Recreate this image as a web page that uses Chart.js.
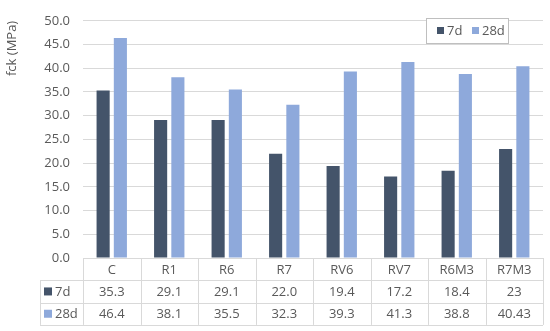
<!DOCTYPE html>
<html><head><meta charset="utf-8">
<script src="https://cdn.jsdelivr.net/npm/chart.js@4"></script>
<style>html,body{margin:0;padding:0;background:#fff}#wrap{width:550px;height:331px}</style>
</head><body><div id="wrap"><canvas id="c" width="550" height="331"></canvas></div>
<script>
const categories = ['C','R1','R6','R7','RV6','RV7','R6M3','R7M3'];
const values7d = [35.3, 29.1, 29.1, 22.0, 19.4, 17.2, 18.4, 23];
const values28d = [46.4, 38.1, 35.5, 32.3, 39.3, 41.3, 38.8, 40.43];
const labels7d = ['35.3','29.1','29.1','22.0','19.4','17.2','18.4','23'];
const labels28d = ['46.4','38.1','35.5','32.3','39.3','41.3','38.8','40.43'];
const seriesNames = ['7d','28d'];
const colors = ['#44546A','#8EA9DB'];
const FONT = '"Open Sans", "Liberation Sans", sans-serif';
const TXT = '#595959';
const LINE = '#d9d9d9';

const tablePlugin = {
  id: 'tbl',
  afterDraw(chart) {
    const ctx = chart.ctx, x = chart.scales.x, ca = chart.chartArea;
    const rowH = 22.3;
    const top = ca.bottom;
    const w = (ca.right - ca.left) / categories.length;
    const headLeft = 40;
    ctx.save();
    ctx.strokeStyle = LINE; ctx.lineWidth = 1;
    ctx.beginPath();
    ctx.moveTo(ca.left, top + 0.5); ctx.lineTo(ca.right, top + 0.5);
    for (let r = 1; r <= 3; r++) {
      const y = Math.round(top + r * rowH) + 0.5;
      ctx.moveTo(headLeft, y); ctx.lineTo(ca.right, y);
    }
    for (let i = 0; i <= categories.length; i++) {
      const xx = Math.round(ca.left + i * w) + 0.5;
      ctx.moveTo(xx, top); ctx.lineTo(xx, top + 3 * rowH);
    }
    ctx.moveTo(headLeft + 0.5, top + rowH); ctx.lineTo(headLeft + 0.5, top + 3 * rowH);
    ctx.stroke();
    ctx.fillStyle = TXT;
    ctx.font = '13px ' + FONT;
    ctx.textAlign = 'center'; ctx.textBaseline = 'middle';
    const rows = [categories, labels7d, labels28d];
    rows.forEach((row, r) => {
      row.forEach((t, i) => {
        const cx = x.getPixelForValue(i);
        ctx.fillText(t, cx, top + r * rowH + rowH / 2 + 1);
      });
    });
    ctx.textAlign = 'left';
    seriesNames.forEach((n, k) => {
      const cy = top + (k + 1) * rowH + rowH / 2;
      ctx.fillStyle = colors[k];
      ctx.fillRect(44, cy - 4, 8, 8);
      ctx.fillStyle = TXT;
      ctx.fillText(n, 55, cy + 1);
    });
    // legend
    const lx = 426, ly = 18, lw = 82, lh = 25;
    ctx.fillStyle = '#fff';
    ctx.fillRect(lx, ly, lw, lh);
    ctx.strokeStyle = '#bfbfbf';
    ctx.strokeRect(lx + 0.5, ly + 0.5, lw, lh);
    ctx.font = '13px ' + FONT;
    const items = [[437, 447], [472, 482]];
    seriesNames.forEach((n, k) => {
      ctx.fillStyle = colors[k];
      ctx.fillRect(items[k][0], ly + lh / 2 - 3.5, 7, 7);
      ctx.fillStyle = TXT;
      ctx.fillText(n, items[k][1], ly + lh / 2 + 1);
    });
    ctx.restore();
  }
};

new Chart(document.getElementById('c'), {
  type: 'bar',
  data: {
    labels: categories,
    datasets: [
      { label: seriesNames[0], data: values7d, backgroundColor: colors[0], barPercentage: 0.76, categoryPercentage: 0.6 },
      { label: seriesNames[1], data: values28d, backgroundColor: colors[1], barPercentage: 0.76, categoryPercentage: 0.6 }
    ]
  },
  options: {
    responsive: false,
    animation: false,
    layout: { padding: { left: 0, right: 7, top: 9, bottom: 73 } },
    plugins: { legend: { display: false }, tooltip: { enabled: false } },
    scales: {
      x: { display: false },
      y: {
        min: 0, max: 50,
        ticks: { stepSize: 5, color: TXT, font: { size: 13, family: FONT }, padding: 13,
          callback: v => Number(v).toFixed(1) },
        grid: { color: LINE, drawTicks: false },
        border: { display: false },
        title: { display: true, text: 'fck (MPa)', align: 'end', color: TXT, font: { size: 13, family: FONT }, padding: { top: 4, bottom: 0 } },
        afterFit(s) { s.width = 83; }
      }
    }
  },
  plugins: [tablePlugin]
});
</script></body></html>
